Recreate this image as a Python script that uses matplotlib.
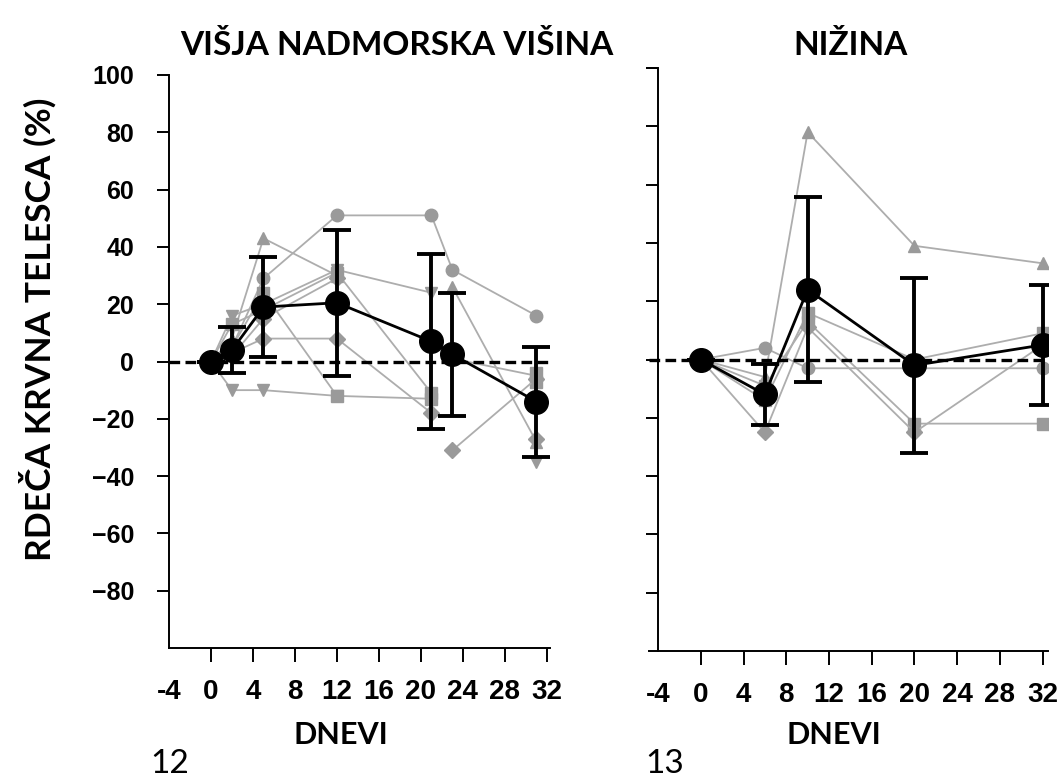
import numpy as np
import matplotlib
matplotlib.use("Agg")
import matplotlib.pyplot as plt

# days of measurement and group means (black) with SD
days_hi = [0, 2, 5, 12, 21, 23, 31]
mean_hi = [0, 4, 19, 20.5, 7, 2.5, -14]
sd_hi = [0, 8, 17.5, 25.5, 30.5, 21.5, 19.2]

days_lo = [0, 6, 10, 20, 32]
mean_lo = [0, -12, 24, -2, 5]
sd_lo = [0, 10.5, 31.8, 30, 20.5]

# individual subjects (grey), nan = not measured
nan = np.nan
subj_hi = {
    "o": [0, 5, 29, 51, 51, 32, 16],
    "^": [0, 8, 43, 30, nan, 26, -28],
    "v": [0, 16, 20, 32, 24, nan, -35],
    "v2": [0, -10, -10, -12, nan, 1, -5],
    "s": [0, 13, 18, 31, -11, nan, -7],
    "D": [0, 3, 8, 8, -18, nan, -27],
    "s2": [0, 5, 24, -12, -13, nan, -4],
    "D2": [0, 2, 15, 29, nan, -31, -6],
}
subj_lo = {
    "^": [0, -6, 78, 39, 33],
    "o": [0, 4, -3, -3, -3],
    "s": [0, -14, 16, 0, 9],
    "s2": [0, -9, 13, -22, -22],
    "D": [0, -25, 11, -25, 5],
}

yticks = [-80, -60, -40, -20, 0, 20, 40, 60, 80, 100]
xticks = [-4, 0, 4, 8, 12, 16, 20, 24, 28, 32]
xticklabels = ["-4", "0", "4", "8", "12", "16", "20", "24", "28", "32"]

W, H = 1059, 777
fig = plt.figure(figsize=(W / 100, H / 100), dpi=100)


def px_axes(x0, y0, x1, y1):
    # axes from pixel box (top-left origin)
    return fig.add_axes([x0 / W, 1 - y1 / H, (x1 - x0) / W, (y1 - y0) / H])


tick_font = dict(family="Liberation Sans", weight="bold")
grey_mk = "#9a9a9a"
grey_ln = "#adadad"


def draw(ax, days, mean, sd, subj):
    for key, vals in subj.items():
        ax.plot(days, vals, marker=key[0], color=grey_ln, lw=1.3,
                ms=9 if key[0] != "D" else 8,
                mfc=grey_mk, mec=grey_mk, zorder=2)
    ax.axhline(0, color="black", lw=2.4, ls=(0, (3.2, 1.6)), zorder=3)
    ax.errorbar(days, mean, yerr=sd, color="black", lw=2, marker="o", ms=17,
                elinewidth=2.8, capsize=10, capthick=2.8, zorder=4)
    ax.set_ylim(-100, 100)
    ax.set_xticks(xticks)
    ax.set_xticklabels(xticklabels)
    for lab in ax.get_xticklabels():
        lab.set_fontsize(20)
        lab.set_fontfamily("Liberation Sans")
        lab.set_fontweight("bold")
    ax.spines["top"].set_visible(False)
    ax.spines["right"].set_visible(False)
    for s in ("left", "bottom"):
        ax.spines[s].set_linewidth(1.4)
    ax.tick_params(axis="x", length=10, width=1.4, pad=12)
    ax.tick_params(axis="y", length=9, width=1.4)
    ax.xaxis.get_major_ticks()[0].tick1line.set_visible(False)


ax1 = px_axes(169, 75, 550, 648)
draw(ax1, days_hi, mean_hi, sd_hi, subj_hi)
ax1.set_xlim(-4, 32.3)
ax1.set_yticks(yticks)
ax1.set_yticklabels([str(v).replace("-", "\u2212") for v in yticks],
                    fontsize=18, **tick_font)
ax1.tick_params(axis="y", pad=16)

ax2 = px_axes(649, 68, 1048, 651)
draw(ax2, days_lo, mean_lo, sd_lo, subj_lo)
ax2.set_xlim(-4.85, 32.5)
ax2.spines["left"].set_position(("data", -4))
ax2.set_yticks(yticks + [100])
ax2.set_yticklabels([])

title_font = dict(family="Lato", weight="bold")
fig.text(397 / W, 1 - 45 / H, "VIŠJA NADMORSKA VIŠINA", ha="center",
         va="center", fontsize=24, **title_font)
fig.text(851 / W, 1 - 45 / H, "NIŽINA", ha="center", va="center",
         fontsize=24, **title_font)
fig.text(341 / W, 1 - 735 / H, "DNEVI", ha="center", va="center",
         fontsize=22, **title_font)
fig.text(834 / W, 1 - 735 / H, "DNEVI", ha="center", va="center",
         fontsize=22, **title_font)
fig.text(38 / W, 1 - 329 / H, "RDEČA KRVNA TELESCA (%)", ha="center",
         va="center", rotation=90, fontsize=25.5, **title_font)
fig.text(150 / W, 1 - 773 / H, "12", ha="left", va="baseline",
         fontsize=24, family="Lato")
fig.text(645 / W, 1 - 773 / H, "13", ha="left", va="baseline",
         fontsize=24, family="Lato")

fig.savefig("out.png", dpi=100)
